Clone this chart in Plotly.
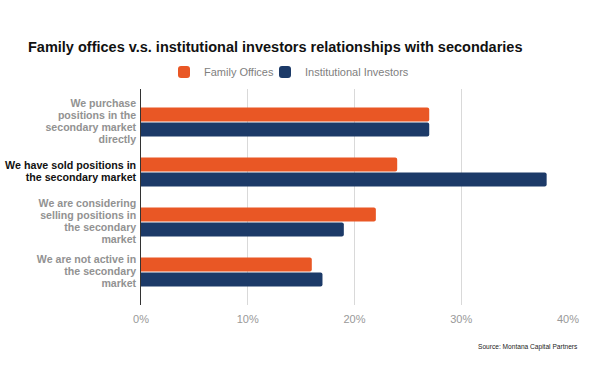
import plotly.graph_objects as go

GRAY_SPAN = "<span style='font-size:10.6px'><b>{}</b></span>"
BLACK_SPAN = "<span style='color:#111111;font-size:10.7px'><b>{}</b></span>"

categories = [
    GRAY_SPAN.format("We purchase<br>positions in the<br>secondary market<br>directly"),
    BLACK_SPAN.format("We have sold positions in<br>the secondary market"),
    GRAY_SPAN.format("We are considering<br>selling positions in<br>the secondary<br>market"),
    GRAY_SPAN.format("We are not active in<br>the secondary<br>market"),
]
family_offices = [27, 24, 22, 16]
institutional = [27, 38, 19, 17]
x_ticks = [0, 10, 20, 30, 40]
x_tick_labels = ["0%", "10%", "20%", "30%", "40%"]

ORANGE = "#E95725"
NAVY = "#1C3A68"

fig = go.Figure()
fig.add_trace(go.Bar(
    y=categories, x=family_offices, orientation="h", name="Family Offices",
    marker=dict(color=ORANGE, cornerradius=2, line=dict(width=0)), legend="legend",
))
fig.add_trace(go.Bar(
    y=categories, x=institutional, orientation="h", name="Institutional Investors",
    marker=dict(color=NAVY, cornerradius=2, line=dict(width=0)), legend="legend2",
))

legend_common = dict(
    orientation="h", xref="container", xanchor="left",
    yref="container", y=1 - 72 / 371, yanchor="middle",
    font=dict(size=11, color="#808080"), bgcolor="rgba(0,0,0,0)",
)

fig.update_layout(
    width=600, height=371,
    margin=dict(l=141, r=32, t=89, b=66, autoexpand=False),
    paper_bgcolor="white", plot_bgcolor="white",
    font=dict(family="Liberation Sans, Arial, sans-serif", color="#888888", size=11),
    barmode="group", bargap=0.4, bargroupgap=0.08,
    title=dict(
        text="<b>Family offices v.s. institutional investors relationships with secondaries</b>",
        xref="container", x=28 / 600, xanchor="left",
        yref="container", y=1 - 47 / 371, yanchor="middle",
        font=dict(size=14.5, color="#111111"),
    ),
    legend=dict(legend_common, x=164 / 600),
    legend2=dict(legend_common, x=265 / 600),
    showlegend=True,
    xaxis=dict(
        range=[0, 40], tickvals=x_ticks, ticktext=x_tick_labels,
        showgrid=True, gridcolor="#D9D9D9", gridwidth=1, zeroline=False,
        ticks="", tickfont=dict(size=11, color="#999999"), ticklabelstandoff=6,
        automargin=False, fixedrange=True,
    ),
    yaxis=dict(
        range=[3.66, -0.66], showline=True, linecolor="#333333", linewidth=1,
        ticks="", tickfont=dict(size=9.2, color="#929292"), ticklabelstandoff=2,
        automargin=False, fixedrange=True,
    ),
    annotations=[dict(
        text="Source: Montana Capital Partners", xref="paper", yref="paper",
        x=(580 - 141) / (600 - 141 - 32), xanchor="right",
        y=-(347 - 305) / (371 - 89 - 66), yanchor="middle",
        showarrow=False, font=dict(size=6.6, color="#222222"),
    )],
)

fig.write_html("out.html", config={"displayModeBar": False},
               post_script="document.body.style.margin='0';")
